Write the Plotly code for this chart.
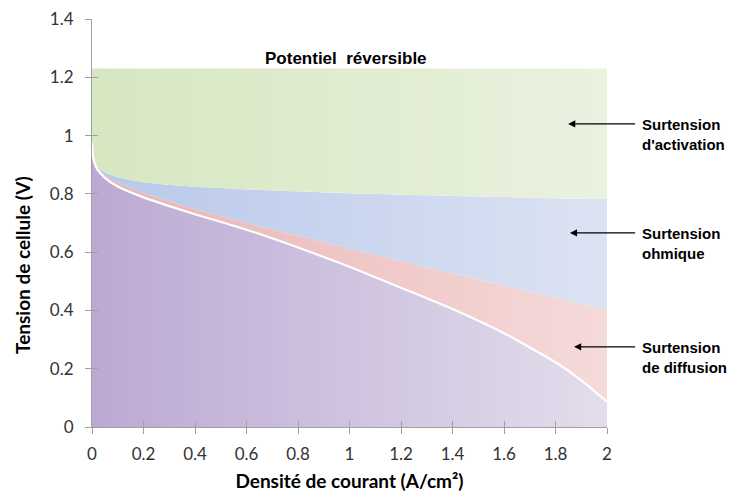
import plotly.graph_objects as go

# Current density (A/cm²)
current = [0, 0.005, 0.01, 0.02, 0.05, 0.1, 0.2, 0.3, 0.4, 0.6, 0.8, 1.0,
           1.2, 1.4, 1.6, 1.8, 1.9, 2.0]
# Cell voltage (after diffusion overvoltage)
v_cell = [0.975, 0.925, 0.905, 0.885, 0.855, 0.825, 0.788, 0.758, 0.730,
          0.677, 0.616, 0.550, 0.478, 0.405, 0.322, 0.222, 0.160, 0.087]
# Voltage after ohmic overvoltage
v_ohm = [0.975, 0.926, 0.907, 0.889, 0.863, 0.838, 0.803, 0.775, 0.748,
         0.700, 0.656, 0.612, 0.569, 0.527, 0.485, 0.443, 0.422, 0.402]
# Voltage after activation overvoltage
v_act = [0.975, 0.928, 0.910, 0.894, 0.873, 0.857, 0.840, 0.831, 0.824,
         0.815, 0.808, 0.802, 0.797, 0.793, 0.789, 0.785, 0.783, 0.782]
# Reversible potential
e_rev = 1.23
v_rev = [e_rev] * len(current)

x_ticks = [0, 0.2, 0.4, 0.6, 0.8, 1, 1.2, 1.4, 1.6, 1.8, 2]
y_ticks = [0, 0.2, 0.4, 0.6, 0.8, 1, 1.2, 1.4]

labels = ["Surtension<br>d'activation", "Surtension<br>ohmique", "Surtension<br>de diffusion"]
label_y = [1.005, 0.628, 0.237]
arrow_y = [1.040, 0.666, 0.275]
arrow_head_x = [1.849, 1.856, 1.872]

fig = go.Figure()

def grad(c0, c1):
    return dict(type="horizontal", colorscale=[[0, c0], [1, c1]])

shape = dict(shape="spline", smoothing=0.5)

fig.add_trace(go.Scatter(x=current, y=v_cell, mode="none", fill="tozeroy", line=shape,
                         fillgradient=grad("#bca9d3", "#e3ddec"), hoverinfo="skip"))
fig.add_trace(go.Scatter(x=current, y=v_ohm, mode="none", fill="tonexty", line=shape,
                         fillgradient=grad("#eab3b3", "#f5dada"), hoverinfo="skip"))
fig.add_trace(go.Scatter(x=current, y=v_act, mode="none", fill="tonexty", line=shape,
                         fillgradient=grad("#b8c8ea", "#dce3f3"), hoverinfo="skip"))
fig.add_trace(go.Scatter(x=current, y=v_rev, mode="none", fill="tonexty",
                         fillgradient=grad("#d6e7c1", "#eaf2e0"), hoverinfo="skip"))
fig.add_trace(go.Scatter(x=current, y=v_cell, mode="lines",
                         line=dict(color="white", width=2.2, shape="spline", smoothing=0.5),
                         hoverinfo="skip"))
# dummy trace for overlay axes (inside tick halves)
fig.add_trace(go.Scatter(x=[0], y=[0], xaxis="x2", yaxis="y2", mode="markers",
                         marker=dict(opacity=0), hoverinfo="skip"))

axis_col = "#a0a0a0"
tickfont = dict(family="Lato", size=17, color="#333333")
titlefont = dict(family="Lato", size=19, color="#000000", weight="bold")

fig.update_layout(
    width=734, height=492,
    margin=dict(l=92, r=127, t=19, b=65),
    paper_bgcolor="white", plot_bgcolor="white",
    showlegend=False,
    xaxis=dict(range=[0, 2], tickvals=x_ticks, ticks="outside", ticklen=6,
               tickcolor=axis_col, tickwidth=1, showline=True, linecolor=axis_col,
               linewidth=1, showgrid=False, zeroline=False, tickfont=tickfont,
               ticklabelstandoff=6,
               title=dict(text="Densité de courant (A/cm²)", font=titlefont, standoff=13),
               automargin=False),
    yaxis=dict(range=[0, 1.4], tickvals=y_ticks, ticks="outside", ticklen=6,
               tickcolor=axis_col, tickwidth=1, showline=True, linecolor=axis_col,
               linewidth=1, showgrid=False, zeroline=False, tickfont=tickfont,
               ticklabelstandoff=8, automargin=False),
    xaxis2=dict(range=[0, 2], tickvals=x_ticks, ticks="inside", ticklen=6,
                tickcolor=axis_col, overlaying="x", anchor="y2", side="bottom",
                showticklabels=False, showgrid=False, zeroline=False, showline=False),
    yaxis2=dict(range=[0, 1.4], tickvals=y_ticks, ticks="inside", ticklen=6,
                tickcolor=axis_col, overlaying="y", anchor="x2", side="left",
                showticklabels=False, showgrid=False, zeroline=False, showline=False),
)

# y-axis title (placed as in the reference, slightly below the plot centre)
fig.add_annotation(x=-0.134, y=0.556, xref="paper", yref="y", text="Tension de cellule (V)",
                   textangle=-90, showarrow=False, xanchor="center", yanchor="middle",
                   font=titlefont)

fig.add_annotation(x=0.986, y=1.266, xref="x", yref="y", text="Potentiel  réversible",
                   showarrow=False, font=dict(family="Liberation Sans", size=17,
                                              color="#000000", weight="bold"))

for txt, ly, ay, hx in zip(labels, label_y, arrow_y, arrow_head_x):
    fig.add_annotation(x=1.064, y=ly, xref="paper", yref="y", text=txt, showarrow=False,
                       xanchor="left", yanchor="middle", align="left",
                       font=dict(family="Liberation Sans", size=15, color="#000000",
                                 weight="bold"))
    fig.add_annotation(x=hx, y=ay, xref="x", yref="y", ax=2.115, ay=ay,
                       axref="x", ayref="y", text="", showarrow=True,
                       arrowhead=2, arrowsize=1.1, arrowwidth=1.3, arrowcolor="#000000")

fig.write_html("out.html", config={"displayModeBar": False},
               post_script="document.body.style.margin='0';document.body.style.overflow='hidden';")
